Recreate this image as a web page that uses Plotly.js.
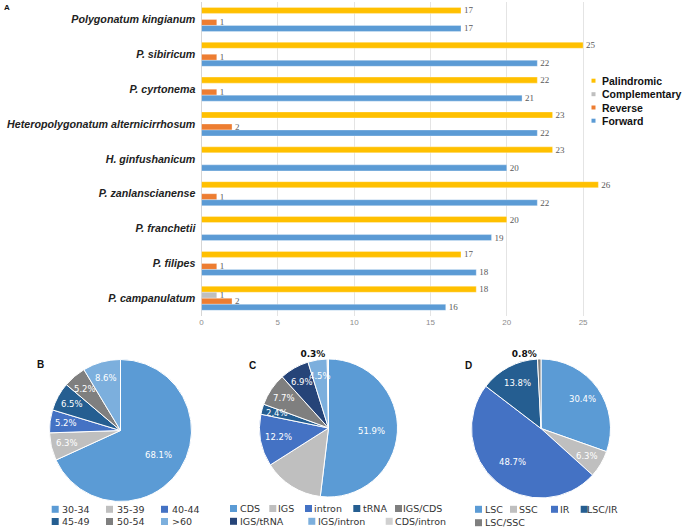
<!DOCTYPE html>
<html><head><meta charset="utf-8">
<script src="https://cdn.plot.ly/plotly-3.0.1.min.js"></script>
<style>html,body{margin:0;padding:0;background:#fff}#chart{width:685px;height:529px}</style>
</head><body><div id="chart"></div>
<script>
// ---------- Data ----------
const species = ['Polygonatum kingianum','P. sibiricum','P. cyrtonema','Heteropolygonatum alternicirrhosum','H. ginfushanicum','P. zanlanscianense','P. franchetii','P. filipes','P. campanulatum'];
const palindromic   = [17,25,22,23,23,26,20,17,18];
const complementary = [null,null,null,null,null,null,null,null,1];
const reverse       = [1,1,1,2,null,1,null,1,2];
const forward       = [17,22,21,22,20,22,19,18,16];
const repeatTypes = ['Palindromic','Complementary','Reverse','Forward'];

const lenLabels = ['30-34','35-39','40-44','45-49','50-54','>60'];
const lenValues = [68.1,6.3,5.2,6.5,5.2,8.6];
const regionLabels = ['CDS','IGS','intron','tRNA','IGS/CDS','IGS/tRNA','IGS/intron','CDS/intron'];
const regionValues = [51.9,14.1,12.2,2.4,7.7,6.9,4.5,0.3];
const locLabels = ['LSC','SSC','IR','LSC/IR','LSC/SSC'];
const locValues = [30.4,6.3,48.7,13.8,0.8];

// ---------- Style ----------
const W = 685, H = 529;
const px = x => x / W, py = y => 1 - y / H;
const barColors = ['#FFC000','#BFBFBF','#ED7D31','#5B9BD5'];
const lenColors = ['#5B9BD5','#BFBFBF','#4472C4','#255E91','#7F7F7F','#7CAFDD'];
const regionColors = ['#5B9BD5','#BFBFBF','#4472C4','#255E91','#7F7F7F','#264478','#7CAFDD','#D0D0D0'];
const locColors = ['#5B9BD5','#BFBFBF','#4472C4','#255E91','#7F7F7F'];

const annotations = [], shapes = [];

const barSeries = [palindromic, complementary, reverse, forward];
const traces = barSeries.map((vals, i) => ({
  type: 'bar', orientation: 'h', y: species, x: vals, name: repeatTypes[i],
  marker: {color: barColors[i], line: {color: 'rgba(255,255,255,0.6)', width: 0.5}},
  text: vals.map(v => v == null ? '' : String(v)), textposition: 'outside',
  textfont: {family: 'Liberation Serif', size: 9, color: '#595959'},
  constraintext: 'none', cliponaxis: false, hoverinfo: 'none', showlegend: false
}));

// pie geometry (pixel centre / radius)
const pieB = {cx: 120.5, cy: 430.5, r: 71};
const pieC = {cx: 328.5, cy: 428, r: 69};
const pieD = {cx: 541, cy: 428.5, r: 69.5};

function pieTrace(labels, values, colors, g, hiddenIdx) {
  const n = values.length;
  // inside labels placed along each slice's mid-angle
  const total = values.reduce((a, b) => a + b, 0);
  let cum = 0;
  values.forEach((v, i) => {
    const mid = (cum + v / 2) / total * 2 * Math.PI;
    cum += v;
    if (i === hiddenIdx || v < 1) return;
    const f = v >= 40 ? 0.63 : (v >= 10 ? 0.74 : 0.77);
    annotations.push({xref: 'paper', yref: 'paper',
      x: px(g.cx + f * g.r * Math.sin(mid)), y: py(g.cy - f * g.r * Math.cos(mid)),
      text: v.toFixed(1) + '%', showarrow: false, xanchor: 'center', yanchor: 'middle',
      font: {family: 'DejaVu Sans', size: 8.5, color: '#ffffff'}});
  });
  return {
    type: 'pie', labels, values, sort: false, direction: 'clockwise', rotation: 0,
    domain: {x: [px(g.cx - g.r), px(g.cx + g.r)], y: [py(g.cy + g.r), py(g.cy - g.r)]},
    marker: {colors, line: {color: '#ffffff', width: 1}},
    textinfo: 'none',
    texttemplate: values.map((v) => v < 1 ? '%{value:.1f}%' : ''),
    textposition: values.map((v) => v < 1 ? 'outside' : 'inside'),
    outsidetextfont: {family: 'DejaVu Sans', size: 9, color: '#111111', weight: 'bold'},
    automargin: false, hoverinfo: 'none', showlegend: false
  };
}
traces.push(pieTrace(lenLabels, lenValues, lenColors, pieB, -1));
traces.push(pieTrace(regionLabels, regionValues, regionColors, pieC, 1));
traces.push(pieTrace(locLabels, locValues, locColors, pieD, -1));

// ---------- Legends (annotations + shapes) ----------
function legendItem(sx, cy, size, color, label, tx, font) {
  shapes.push({type: 'rect', xref: 'paper', yref: 'paper', layer: 'above',
    x0: px(sx), x1: px(sx + size), y0: py(cy + size / 2), y1: py(cy - size / 2),
    fillcolor: color, line: {width: 0}});
  annotations.push({xref: 'paper', yref: 'paper', x: px(tx), y: py(cy), text: label,
    showarrow: false, xanchor: 'left', yanchor: 'middle', font});
}
const barLegFont = {family: 'Liberation Sans', size: 10.5, color: '#111', weight: 'bold'};
const barLegY = [80.7, 94.2, 107.5, 120.7];
repeatTypes.forEach((t, i) => legendItem(591.5, barLegY[i], 4, barColors[i], t, 600, barLegFont));

const pieLegFont = {family: 'DejaVu Sans', size: 9.5, color: '#333'};
const lenPos = [[51.7,509.3,60],[106,509.3,114.5],[161,509.3,170],[51.7,521.5,60],[106,521.5,114.5],[161,521.5,170]];
lenLabels.forEach((l, i) => legendItem(lenPos[i][0], lenPos[i][1], 7, lenColors[i], l, lenPos[i][2], pieLegFont));
const regPos = [[230,508.5,237.5],[269.3,508.5,275.5],[305,508.5,311.5],[353.3,508.5,360.5],[395,508.5,401],
                [230,521.3,237.5],[308.3,521.3,316],[385.7,521.3,393.5]];
regionLabels.forEach((l, i) => legendItem(regPos[i][0], regPos[i][1], 7, regionColors[i], l, regPos[i][2], pieLegFont));
const locPos = [[475,509.3,483],[510,509.3,517],[551,509.3,557.5],[580.7,509.3,585],[475,522.7,483]];
locLabels.forEach((l, i) => legendItem(locPos[i][0], locPos[i][1], 7, locColors[i], l, locPos[i][2], pieLegFont));

// Panel letters
const panelFont = {family: 'Liberation Sans', size: 9, color: '#111', weight: 'bold'};
[['A', 2, 7], ['B', 34.5, 364], ['C', 246.5, 366], ['D', 462.5, 366]].forEach(([t, x, y]) =>
  annotations.push({xref: 'paper', yref: 'paper', x: px(x), y: py(y), text: t, showarrow: false,
    xanchor: 'left', yanchor: 'middle', font: t === 'A' ? {...panelFont, size: 8} : {...panelFont, size: 10}}));

const layout = {
  width: W, height: H, margin: {l: 0, r: 0, t: 0, b: 0},
  paper_bgcolor: '#fff', plot_bgcolor: '#fff', showlegend: false,
  barmode: 'group', bargap: 0.31, bargroupgap: 0,
  xaxis: {domain: [px(201.5), px(606)], range: [0, 26.5], dtick: 5, tick0: 0,
    showgrid: true, gridcolor: '#e4e4e4', gridwidth: 1,
    zeroline: true, zerolinecolor: '#d6d6d6', zerolinewidth: 1,
    tickfont: {family: 'Liberation Sans', size: 8, color: '#8c8c8c'}, ticks: '', fixedrange: true},
  yaxis: {domain: [py(315.7), py(2)], type: 'category', categoryarray: species, categoryorder: 'array',
    autorange: 'reversed', showgrid: false, zeroline: false, showline: false,
    ticks: 'outside', ticklen: 3, tickcolor: 'rgba(0,0,0,0)',
    tickfont: {family: 'Liberation Sans', size: 10.7, color: '#222', weight: 'bold', style: 'italic'},
    fixedrange: true},
  annotations, shapes
};
Plotly.newPlot('chart', traces, layout, {staticPlot: true, displayModeBar: false});
</script></body></html>
